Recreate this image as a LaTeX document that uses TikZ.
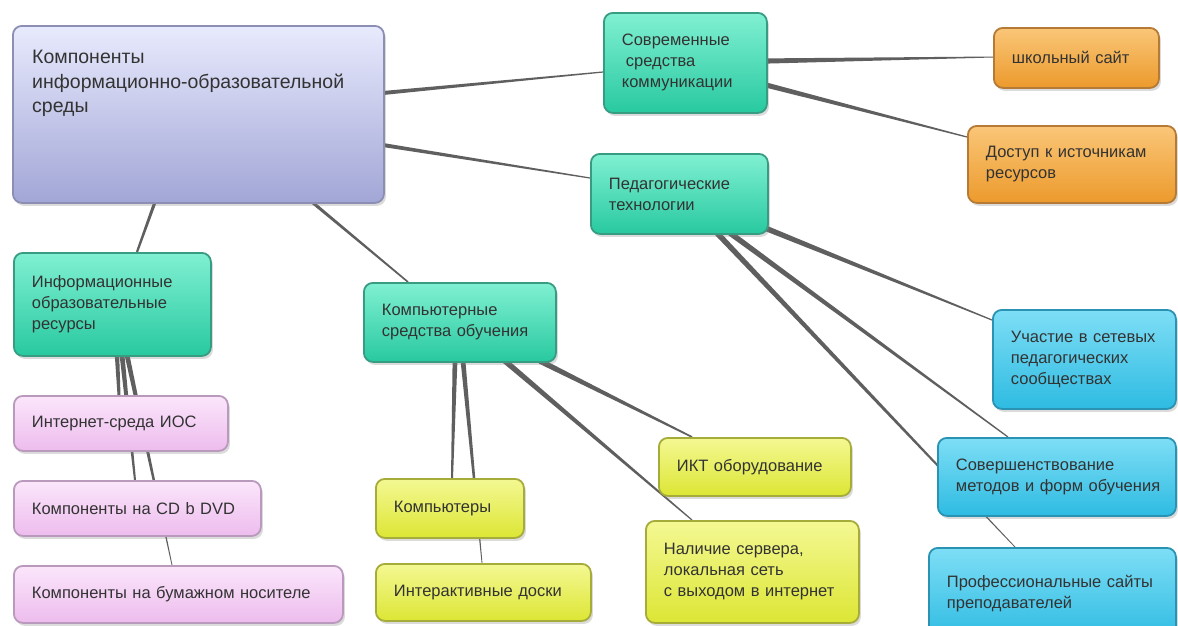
\documentclass[tikz,border=0pt]{standalone}
\usepackage{fontspec}
\setmainfont{Liberation Sans}
\usetikzlibrary{calc,shadows,backgrounds}
\definecolor{txtc}{HTML}{333333}
\definecolor{linkc}{HTML}{4E4E4E}
\definecolor{rootT}{HTML}{E8EAFD}\definecolor{rootM}{HTML}{CDD1F4}\definecolor{rootB}{HTML}{A2A6D6}\definecolor{rootD}{HTML}{8C8FB3}
\definecolor{grnT}{HTML}{80F0D2}\definecolor{grnM}{HTML}{45E0B8}\definecolor{grnB}{HTML}{28C9A0}\definecolor{grnD}{HTML}{389C82}
\definecolor{orT}{HTML}{FAC678}\definecolor{orM}{HTML}{F4AC48}\definecolor{orB}{HTML}{EC9A2C}\definecolor{orD}{HTML}{B57A36}
\definecolor{pkT}{HTML}{FBE6FB}\definecolor{pkM}{HTML}{F3CDF3}\definecolor{pkB}{HTML}{EDBCED}\definecolor{pkD}{HTML}{B99ABC}
\definecolor{ylT}{HTML}{F4F893}\definecolor{ylM}{HTML}{E8F050}\definecolor{ylB}{HTML}{DCE634}\definecolor{ylD}{HTML}{A6AC3A}
\definecolor{blT}{HTML}{7EDEF6}\definecolor{blM}{HTML}{4ACAEC}\definecolor{blB}{HTML}{2EBBE2}\definecolor{blD}{HTML}{2A92B3}
\newcommand\taper[4]{\fill[linkc,opacity=0.9] ($(#1)!#3!90:(#2)$) -- ($(#1)!#3!-90:(#2)$) -- ($(#2)!#4!90:(#1)$) -- ($(#2)!#4!-90:(#1)$) -- cycle;}
\tikzset{
  box/.style={line width=1.8pt, rounded corners=9pt, anchor=north west,
    inner xsep=18pt, inner ysep=0pt, align=left, text=txtc,
    font=\fontsize{16.5}{21}\selectfont,
    drop shadow={shadow xshift=2pt, shadow yshift=-3pt, opacity=0.28}},
  rootbox/.style={box, draw=rootD, top color=rootT, middle color=rootM, bottom color=rootB},
  grn/.style={box, draw=grnD, top color=grnT, middle color=grnM, bottom color=grnB},
  org/.style={box, draw=orD, top color=orT, middle color=orM, bottom color=orB},
  pnk/.style={box, draw=pkD, top color=pkT, middle color=pkM, bottom color=pkB},
  ylw/.style={box, draw=ylD, top color=ylT, middle color=ylM, bottom color=ylB},
  blu/.style={box, draw=blD, top color=blT, middle color=blM, bottom color=blB},
}
\begin{document}
\begin{tikzpicture}[x=1pt,y=-1pt]
\useasboundingbox (0,0) rectangle (1178,625);
% boxes
\node[rootbox, minimum width=371pt, minimum height=177pt] (root) at (12,25) {};
\node[anchor=north west, inner sep=0pt, align=left, text=txtc, font=\fontsize{19.5}{24.5}\selectfont] (roottext) at (32,50) {Компоненты\\информационно-образовательной\\среды};
\node[grn, minimum width=163pt, minimum height=100pt, text width=127pt] (sovr) at (603,12) {Современные\\\hspace*{4pt}средства\\коммуникации};
\node[grn, minimum width=177pt, minimum height=80pt, text width=141pt] (ped) at (590,153) {Педагогические\\технологии};
\node[grn, minimum width=197pt, minimum height=103pt, text width=161pt] (info) at (13,252) {Информационные\\образовательные\\ресурсы};
\node[grn, minimum width=192pt, minimum height=79pt, text width=156pt] (komp) at (363,282) {Компьютерные\\средства обучения};
\node[org, minimum width=165pt, minimum height=60pt, text width=129pt] (shk) at (993,27) {школьный сайт};
\node[org, minimum width=208pt, minimum height=77pt, text width=172pt] (dost) at (967,125) {Доступ к источникам\\ресурсов};
\node[blu, minimum width=183pt, minimum height=99pt, text width=147pt] (uch) at (992,309) {Участие в сетевых\\педагогических\\сообществах};
\node[blu, minimum width=238pt, minimum height=78pt, text width=212pt, inner xsep=13pt] (sov) at (937,437) {\hspace*{5pt}Совершенствование\\\hspace*{5pt}методов и форм обучения};
\node[blu, minimum width=247pt, minimum height=92pt, text width=211pt] (prof) at (928,547) {Профессиональные сайты\\преподавателей};
\node[pnk, minimum width=214pt, minimum height=55pt, text width=178pt] (inet) at (13,395) {Интернет-среда ИОС};
\node[pnk, minimum width=247pt, minimum height=55pt, text width=211pt] (cd) at (13,480) {Компоненты на CD b DVD};
\node[pnk, minimum width=329pt, minimum height=57pt, text width=293pt] (bum) at (13,565) {Компоненты на бумажном носителе};
\node[ylw, minimum width=148pt, minimum height=59pt, text width=112pt] (compy) at (375,478) {Компьютеры};
\node[ylw, minimum width=215pt, minimum height=57pt, text width=179pt] (inter) at (375,563) {Интерактивные доски};
\node[ylw, minimum width=192pt, minimum height=58pt, text width=156pt] (ikt) at (658,437) {ИКТ оборудование};
\node[ylw, minimum width=213pt, minimum height=102pt, text width=177pt] (nal) at (645,520) {Наличие сервера,\\локальная сеть\\с выходом в интернет};
% connector end points
\coordinate (r1) at ([shift={(371,68)}]root.north west);
\coordinate (r2) at ([shift={(371,120)}]root.north west);
\coordinate (r3) at ([shift={(143,177)}]root.north west);
\coordinate (r4) at ([shift={(300,177)}]root.north west);
\coordinate (sovrIn) at ([shift={(0,60)}]sovr.north west);
\coordinate (pedIn) at ([shift={(0,25)}]ped.north west);
\coordinate (infoIn) at ([shift={(124,0)}]info.north west);
\coordinate (kompIn) at ([shift={(45,0)}]komp.north west);
\coordinate (s1) at ([shift={(163,49)}]sovr.north west);
\coordinate (s2) at ([shift={(163,73)}]sovr.north west);
\coordinate (shkIn) at ([shift={(0,30)}]shk.north west);
\coordinate (dostIn) at ([shift={(0,12)}]dost.north west);
\coordinate (p1) at ([shift={(175,75)}]ped.north west);
\coordinate (p2) at ([shift={(140,80)}]ped.north west);
\coordinate (p3) at ([shift={(127,80)}]ped.north west);
\coordinate (uchIn) at ([shift={(0,11)}]uch.north west);
\coordinate (sovIn) at ([shift={(71,0)}]sov.north west);
\coordinate (profIn) at ([shift={(87,0)}]prof.north west);
\coordinate (k1) at ([shift={(92,79)}]komp.north west);
\coordinate (k2) at ([shift={(100,79)}]komp.north west);
\coordinate (k3) at ([shift={(142,79)}]komp.north west);
\coordinate (k4) at ([shift={(177,79)}]komp.north west);
\coordinate (compyIn) at ([shift={(77,0)}]compy.north west);
\coordinate (interIn) at ([shift={(107,0)}]inter.north west);
\coordinate (nalIn) at ([shift={(47,0)}]nal.north west);
\coordinate (iktIn) at ([shift={(34,0)}]ikt.north west);
\coordinate (i1) at ([shift={(104,103)}]info.north west);
\coordinate (i2) at ([shift={(109,103)}]info.north west);
\coordinate (i3) at ([shift={(114,103)}]info.north west);
\coordinate (inetIn) at ([shift={(106,0)}]inet.north west);
\coordinate (cdIn) at ([shift={(122,0)}]cd.north west);
\coordinate (bumIn) at ([shift={(159,0)}]bum.north west);
% connectors
\begin{pgfonlayer}{background}
\fill[white] (0,0) rectangle (1178,625);
\taper{r1}{sovrIn}{2pt}{0.6pt}
\taper{r2}{pedIn}{2pt}{0.6pt}
\taper{r3}{infoIn}{1.6pt}{1.1pt}
\taper{r4}{kompIn}{1.6pt}{0.8pt}
\taper{s1}{shkIn}{2.6pt}{0.5pt}
\taper{s2}{dostIn}{2.6pt}{0.6pt}
\taper{p1}{uchIn}{2.8pt}{0.6pt}
\taper{p2}{sovIn}{2.8pt}{0.6pt}
\taper{p3}{profIn}{2.8pt}{0.4pt}
\taper{k1}{compyIn}{2.4pt}{1pt}
\taper{k2}{interIn}{2.4pt}{0.4pt}
\taper{k3}{nalIn}{2.8pt}{0.6pt}
\taper{k4}{iktIn}{2.8pt}{0.8pt}
\taper{i1}{inetIn}{2.2pt}{1.5pt}
\taper{i2}{cdIn}{2.4pt}{1pt}
\taper{i3}{bumIn}{2.4pt}{0.4pt}
\end{pgfonlayer}
\end{tikzpicture}
\end{document}
